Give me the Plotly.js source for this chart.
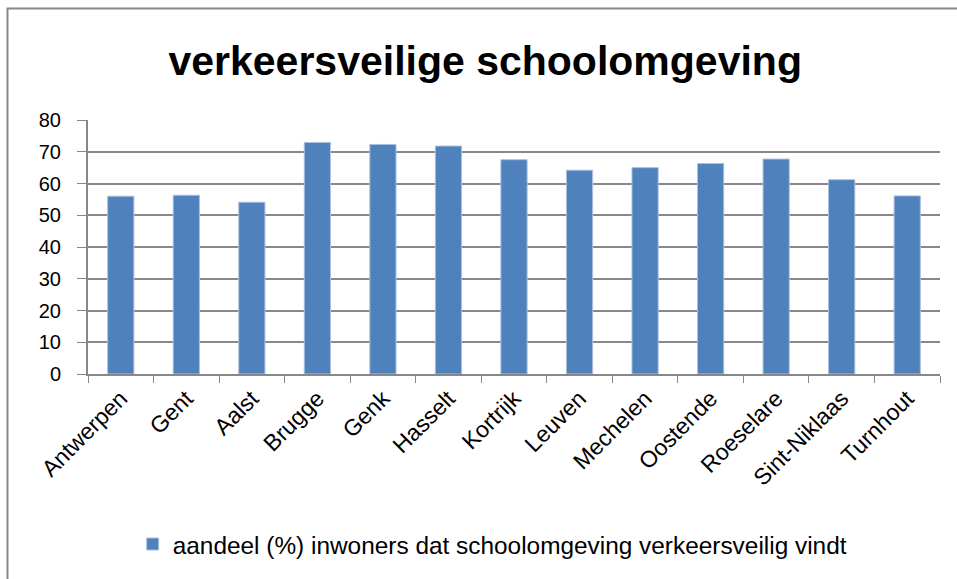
<!DOCTYPE html>
<html>
<head>
<meta charset="utf-8">
<script src="https://cdn.plot.ly/plotly-3.0.1.min.js"></script>
<style>
html,body{margin:0;padding:0;background:#fff;}
#chart{width:957px;height:579px;}
</style>
</head>
<body>
<div id="chart"></div>
<script>
const categories = ["Antwerpen","Gent","Aalst","Brugge","Genk","Hasselt","Kortrijk","Leuven","Mechelen","Oostende","Roeselare","Sint-Niklaas","Turnhout"];
const values = [56.0, 56.3, 54.1, 72.9, 72.3, 71.8, 67.5, 64.2, 65.0, 66.3, 67.7, 61.2, 56.1];
const seriesName = "aandeel (%) inwoners dat schoolomgeving verkeersveilig vindt";
const chartTitle = "verkeersveilige schoolomgeving";

const font = "Liberation Sans, Arial, sans-serif";

const trace = {
  type: "bar",
  x: categories,
  y: values,
  name: seriesName,
  marker: {color: "#4f81bd", line: {color: "#a9c0de", width: 1}},
  showlegend: true
};

const layout = {
  width: 957, height: 579,
  margin: {l: 88, r: 17, t: 120, b: 205},
  paper_bgcolor: "#fff", plot_bgcolor: "#fff",
  title: {text: "<b>" + chartTitle + "</b>", x: 0.507, xanchor: "center", y: 0.895, yanchor: "middle",
          font: {family: font, size: 41, color: "#000"}},
  bargap: 0.6,
  xaxis: {
    type: "category",
    showline: true, linecolor: "#888", linewidth: 2,
    ticks: "outside", tickson: "boundaries", ticklen: 7, tickcolor: "#888", tickwidth: 1,
    tickangle: -45,
    tickfont: {family: font, size: 23, color: "#000"},
    showgrid: false,
    fixedrange: true
  },
  yaxis: {
    range: [0, 80], dtick: 10,
    showline: true, linecolor: "#888", linewidth: 2,
    ticks: "outside", ticklen: 9, tickcolor: "#888",
    ticklabelstandoff: 12,
    tickfont: {family: font, size: 20, color: "#000"},
    showgrid: true, gridcolor: "#888", gridwidth: 2,
    zeroline: false,
    fixedrange: true
  },
  legend: {orientation: "h", x: 0.475, xanchor: "center", y: -0.67, yanchor: "middle",
           font: {family: font, size: 24.4, color: "#000"}},
  shapes: [{
    type: "rect", xref: "paper", yref: "paper",
    x0: -0.0945, x1: 1.2, y0: -1.2, y1: 1.439,
    line: {color: "#888", width: 2}, fillcolor: "rgba(0,0,0,0)", layer: "below"
  }]
};

Plotly.newPlot("chart", [trace], layout, {displayModeBar: false, staticPlot: true});
</script>
</body>
</html>
